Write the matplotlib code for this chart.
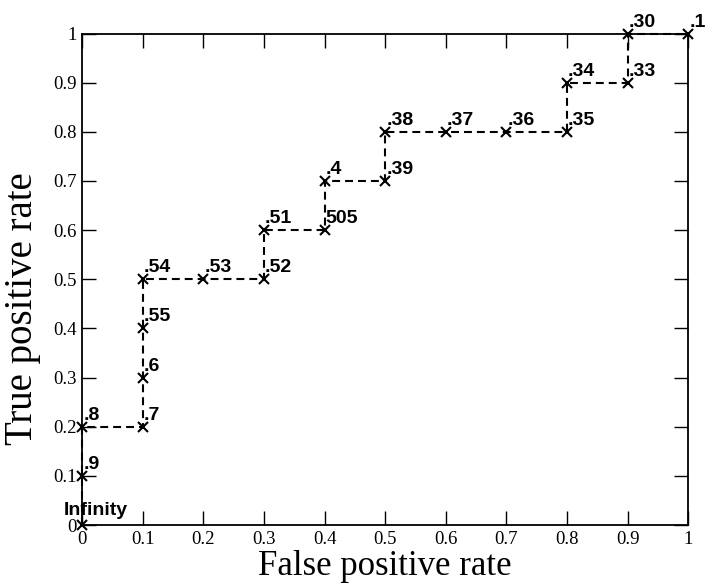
import matplotlib
matplotlib.use("Agg")
import matplotlib.pyplot as plt

fpr = [0.0, 0.0, 0.0, 0.1, 0.1, 0.1, 0.1, 0.2, 0.3, 0.3, 0.4, 0.4, 0.5, 0.5, 0.6, 0.7, 0.8, 0.8, 0.9, 0.9, 1.0]
tpr = [0.0, 0.1, 0.2, 0.2, 0.3, 0.4, 0.5, 0.5, 0.5, 0.6, 0.6, 0.7, 0.7, 0.8, 0.8, 0.8, 0.8, 0.9, 0.9, 1.0, 1.0]
labels = ["Infinity", ".9", ".8", ".7", ".6", ".55", ".54", ".53", ".52", ".51", "505", ".4",
          ".39", ".38", ".37", ".36", ".35", ".34", ".33", ".30", ".1"]
ticks = [0, 0.1, 0.2, 0.3, 0.4, 0.5, 0.6, 0.7, 0.8, 0.9, 1]
tick_labels = ["0", "0.1", "0.2", "0.3", "0.4", "0.5", "0.6", "0.7", "0.8", "0.9", "1"]

fig = plt.figure(figsize=(7.09, 5.84), dpi=100)
ax = fig.add_axes([0.1157, 0.101, 0.855, 0.8416])

ax.plot(fpr, tpr, color="black", linestyle=(0, (3.8, 2.4)), linewidth=1.5,
        marker="x", markersize=7, markeredgewidth=1.5, clip_on=False, zorder=3)

for x, y, lab in zip(fpr, tpr, labels):
    if lab == "Infinity":
        off = (-13.5, 7.2)
    else:
        off = (0.8, 5)
    ax.annotate(lab, (x, y), xytext=off, textcoords="offset points",
                fontfamily="Liberation Sans", fontweight="bold", fontsize=14,
                ha="left", va="baseline", annotation_clip=False)

ax.set_xlim(0, 1)
ax.set_ylim(0, 1)
ax.set_xticks(ticks)
ax.set_xticklabels(tick_labels)
ax.set_yticks(ticks)
ax.set_yticklabels(tick_labels)
ax.tick_params(direction="in", length=10, width=1, top=True, right=True,
               labelsize=13.5, pad=4)
for lab in ax.get_xticklabels() + ax.get_yticklabels():
    lab.set_fontfamily("Liberation Serif")
for s in ax.spines.values():
    s.set_linewidth(1.3)

ax.set_xlabel("False positive rate", fontfamily="Liberation Serif", fontsize=25, labelpad=2)
ax.set_ylabel("True positive rate", fontfamily="Liberation Serif", fontsize=28)
ax.yaxis.set_label_coords(-0.067, 0.44)

fig.savefig("out.png", dpi=100)
